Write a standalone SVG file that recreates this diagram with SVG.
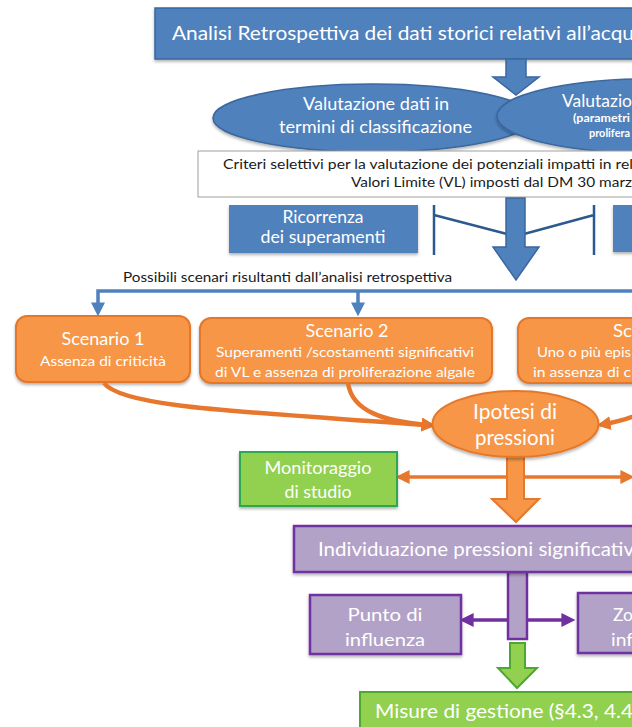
<svg xmlns="http://www.w3.org/2000/svg" width="632" height="727" viewBox="0 0 632 727">
<style>
text{font-family:Lato,"Open Sans","Liberation Sans",sans-serif}
.w{fill:#fff}
.k{fill:#1a1a1a}
.c{text-anchor:middle}
.blue{fill:#4F81BD;stroke:#3A679E;stroke-width:1.5}
.orange{fill:#F79646;stroke:#E4782C;stroke-width:2}
.green{fill:#92D050;stroke:#2FA84F;stroke-width:2}
.purple{fill:#B3A2C7;stroke:#7030A0;stroke-width:2.5}
.bl{fill:none;stroke:#2C5A8F;stroke-width:2.5}
.oc{fill:none;stroke:#E8772E;stroke-width:4.5}
.pl{fill:none;stroke:#7030A0;stroke-width:3.5}
</style>
<defs>
<filter id="sh" x="-10%" y="-10%" width="120%" height="140%">
<feDropShadow dx="0" dy="2" stdDeviation="1.5" flood-color="#000" flood-opacity="0.3"/>
</filter>
<marker id="mb" viewBox="0 0 10 10" refX="4" refY="5" markerWidth="14" markerHeight="14" markerUnits="userSpaceOnUse" orient="auto-start-reverse"><path d="M0,0 L10,5 L0,10 z" fill="#4F81BD"/></marker>
<marker id="mo" viewBox="0 0 10 10" refX="4" refY="5" markerWidth="14" markerHeight="14" markerUnits="userSpaceOnUse" orient="auto-start-reverse"><path d="M0,0 L10,5 L0,10 z" fill="#E8772E"/></marker>
<marker id="mp" viewBox="0 0 10 10" refX="4" refY="5" markerWidth="14" markerHeight="14" markerUnits="userSpaceOnUse" orient="auto-start-reverse"><path d="M0,0 L10,5 L0,10 z" fill="#7030A0"/></marker>
</defs>
<rect width="632" height="727" fill="#fff"/>

<g id="analisi">
<rect class="blue" x="155" y="8" width="500" height="51" filter="url(#sh)"/>
<text class="w" x="172" y="40" font-size="20" textLength="462" lengthAdjust="spacingAndGlyphs">Analisi Retrospettiva dei dati storici relativi all’acqu</text>
</g>

<g id="valutazione-classificazione">
<ellipse class="blue" cx="373" cy="118" rx="160" ry="34" filter="url(#sh)"/>
<text class="w c" x="376" y="110" font-size="17" textLength="146" lengthAdjust="spacingAndGlyphs">Valutazione dati in</text>
<text class="w c" x="375.5" y="133" font-size="17" textLength="193" lengthAdjust="spacingAndGlyphs">termini di classificazione</text>
</g>

<g id="valutazione-proliferazione">
<ellipse class="blue" cx="650" cy="116" rx="153" ry="37" filter="url(#sh)"/>
<text class="w" x="562" y="107" font-size="17" textLength="70" lengthAdjust="spacingAndGlyphs">Valutazio</text>
<text class="w" x="573" y="122" font-size="11" font-weight="bold" textLength="57" lengthAdjust="spacingAndGlyphs">(parametri</text>
<text class="w" x="589" y="137" font-size="11" font-weight="bold" textLength="41" lengthAdjust="spacingAndGlyphs">prolifera</text>
</g>

<g id="criteri">
<rect x="198" y="151" width="460" height="46" fill="#fff" stroke="#A0A0A0" stroke-width="1"/>
<text class="k" x="223" y="169" font-size="14" textLength="410" lengthAdjust="spacingAndGlyphs">Criteri selettivi per la valutazione dei potenziali impatti in rel</text>
<text class="k" x="351" y="187" font-size="14" textLength="281" lengthAdjust="spacingAndGlyphs">Valori Limite (VL) imposti dal DM 30 marz</text>
</g>

<g id="ricorrenza">
<rect x="229" y="205" width="189" height="48" fill="#4F81BD" filter="url(#sh)"/>
<text class="w c" x="323" y="223" font-size="17" textLength="81" lengthAdjust="spacingAndGlyphs">Ricorrenza</text>
<text class="w c" x="323" y="243" font-size="17" textLength="125" lengthAdjust="spacingAndGlyphs">dei superamenti</text>
</g>

<g id="box-destra">
<rect x="613" y="205" width="40" height="47" fill="#4F81BD" filter="url(#sh)"/>
</g>

<g id="possibili-scenari">
<text class="k" x="123" y="282" font-size="14" textLength="329" lengthAdjust="spacingAndGlyphs">Possibili scenari risultanti dall’analisi retrospettiva</text>
</g>

<g id="scenario1">
<rect class="orange" x="16" y="316" width="174" height="66" rx="11" filter="url(#sh)"/>
<text class="w c" x="103" y="345" font-size="17" textLength="83" lengthAdjust="spacingAndGlyphs">Scenario 1</text>
<text class="w c" x="103" y="366" font-size="14" textLength="126" lengthAdjust="spacingAndGlyphs">Assenza di criticità</text>
</g>

<g id="scenario2">
<rect class="orange" x="200" y="318" width="292" height="65" rx="11" filter="url(#sh)"/>
<text class="w c" x="347" y="337" font-size="17" textLength="83" lengthAdjust="spacingAndGlyphs">Scenario 2</text>
<text class="w c" x="345" y="357" font-size="14" textLength="258" lengthAdjust="spacingAndGlyphs">Superamenti /scostamenti significativi</text>
<text class="w c" x="345" y="377" font-size="14" textLength="260" lengthAdjust="spacingAndGlyphs">di VL e assenza di proliferazione algale</text>
</g>

<g id="scenario3">
<rect class="orange" x="518" y="318" width="270" height="65" rx="11" filter="url(#sh)"/>
<text class="w" x="613" y="337" font-size="17" textLength="19" lengthAdjust="spacingAndGlyphs">Sc</text>
<text class="w" x="537" y="357" font-size="14" textLength="94" lengthAdjust="spacingAndGlyphs">Uno o più epis</text>
<text class="w" x="533" y="377" font-size="14" textLength="98" lengthAdjust="spacingAndGlyphs">in assenza di c</text>
</g>

<g id="connectors">
<path d="M98,308 L98,291 L640,291" fill="none" stroke="#4F81BD" stroke-width="3.5" marker-start="url(#mb)"/>
<path d="M358,291 L358,308" fill="none" stroke="#4F81BD" stroke-width="3.5" marker-end="url(#mb)"/>
<path class="bl" d="M434,205 V255 M434,215 L507,234 M524,234 L594,215 M594,205 V255"/>
<polygon class="blue" points="506,59 526,59 526,77 539,77 516,95 493,77 506,77"/>
<polygon class="blue" points="506,198 525,198 525,247 539,247 516,280 493,247 506,247"/>
<path class="oc" d="M104,383 C122,408 250,412 427,425" marker-end="url(#mo)"/>
<path class="oc" d="M348,383 C352,412 385,421 427,425" marker-end="url(#mo)"/>
<path class="oc" d="M668,383 C662,405 640,418 605,424" marker-end="url(#mo)"/>
<path d="M404,477 L626,477" fill="none" stroke="#E8772E" stroke-width="3.5" marker-start="url(#mo)" marker-end="url(#mo)"/>
<polygon class="orange" points="507,455 524,455 524,499 539,499 516,522 492,499 507,499"/>
<path class="pl" d="M508,620 L468,620" marker-end="url(#mp)"/>
<path class="pl" d="M527,620 L567,620" marker-end="url(#mp)"/>
<rect class="purple" x="508" y="572" width="19" height="67"/>
<polygon points="510,643 525,643 525,668 537,668 517,688 498,668 510,668" fill="#92D050" stroke="#4EA72E" stroke-width="2"/>
</g>

<g id="ipotesi">
<ellipse class="orange" cx="515.5" cy="424" rx="83" ry="33" filter="url(#sh)"/>
<text class="w c" x="515" y="419" font-size="21" textLength="84" lengthAdjust="spacingAndGlyphs">Ipotesi di</text>
<text class="w c" x="515" y="445" font-size="21" textLength="80" lengthAdjust="spacingAndGlyphs">pressioni</text>
</g>

<g id="monitoraggio">
<rect class="green" x="240" y="452" width="157" height="54" filter="url(#sh)"/>
<text class="w c" x="318" y="474" font-size="17" textLength="107" lengthAdjust="spacingAndGlyphs">Monitoraggio</text>
<text class="w c" x="318" y="498" font-size="17" textLength="67" lengthAdjust="spacingAndGlyphs">di studio</text>
</g>

<g id="individuazione">
<rect class="purple" x="294" y="526" width="360" height="46" filter="url(#sh)"/>
<text class="w" x="318" y="556" font-size="20" textLength="316" lengthAdjust="spacingAndGlyphs">Individuazione pressioni significativ</text>
</g>

<g id="punto-influenza">
<rect class="purple" x="310" y="595" width="151" height="59" filter="url(#sh)"/>
<text class="w c" x="385" y="621" font-size="18" textLength="75" lengthAdjust="spacingAndGlyphs">Punto di</text>
<text class="w c" x="385" y="646" font-size="18" textLength="80" lengthAdjust="spacingAndGlyphs">influenza</text>
</g>

<g id="zona-influenza">
<rect class="purple" x="578" y="593" width="80" height="60" filter="url(#sh)"/>
<text class="w" x="613" y="621" font-size="18" textLength="20" lengthAdjust="spacingAndGlyphs">Zo</text>
<text class="w" x="611" y="646" font-size="18" textLength="22" lengthAdjust="spacingAndGlyphs">inf</text>
</g>

<g id="misure">
<rect x="360" y="692" width="300" height="45" fill="#92D050" stroke="#4EA72E" stroke-width="2"/>
<text class="w" x="375" y="718" font-size="20" textLength="258" lengthAdjust="spacingAndGlyphs">Misure di gestione (§4.3, 4.4</text>
</g>
</svg>
